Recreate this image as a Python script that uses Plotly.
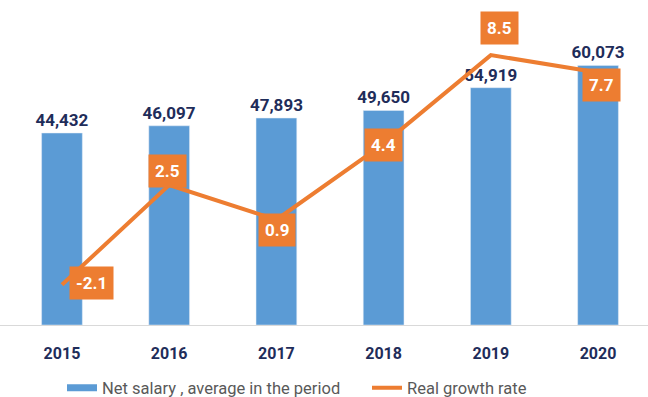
import plotly.graph_objects as go

years = ["2015", "2016", "2017", "2018", "2019", "2020"]
net_salary = [44432, 46097, 47893, 49650, 54919, 60073]
real_growth = [-2.1, 2.5, 0.9, 4.4, 8.5, 7.7]

# offsets (px) of each growth-rate label box relative to its point
label_xshift = [30, -2, 1, 0, 9, 3]
label_yshift = [2, 14, -10, -1, 27, -13]

BLUE = "#5b9bd5"
ORANGE = "#ed7d31"
NAVY = "#1f2d5a"
GREY = "#595959"
FONT = "Roboto"
SALARY_NAME = "Net salary , average in the period"
GROWTH_NAME = "Real growth rate"

fig = go.Figure()

fig.add_trace(go.Bar(
    x=years, y=net_salary, name=SALARY_NAME, showlegend=False,
    marker_color=BLUE, width=0.38,
    text=[f"{v:,}" for v in net_salary], textposition="outside",
    constraintext="none",
    textfont=dict(family=FONT, size=17, color=NAVY, weight="bold"),
    cliponaxis=False,
))

# legend entry for the bars, drawn as a wide flat swatch
fig.add_trace(go.Scatter(
    x=[None], y=[None], name=SALARY_NAME, mode="lines",
    line=dict(color=BLUE, width=7), legend="legend",
))

fig.add_trace(go.Scatter(
    x=years, y=real_growth, name=GROWTH_NAME, yaxis="y2",
    mode="lines", line=dict(color=ORANGE, width=4), legend="legend2",
))

for i, (v, dx, dy) in enumerate(zip(real_growth, label_xshift, label_yshift)):
    fig.add_annotation(
        x=i, y=v, xref="x", yref="y2", text=f"{v:.1f}",
        showarrow=False, xshift=dx, yshift=dy,
        bgcolor=ORANGE, borderpad=6,
        font=dict(family=FONT, size=17, color="white", weight="bold"),
    )

hidden = dict(showline=False, showgrid=False, zeroline=False,
              showticklabels=False, ticks="")
legend_common = dict(orientation="h", y=-0.207, yanchor="middle",
                     xanchor="left", itemwidth=30,
                     font=dict(family=FONT, size=16.5, color=GREY),
                     bgcolor="rgba(0,0,0,0)")

fig.update_layout(
    width=648, height=397,
    margin=dict(l=0, r=0, t=20, b=72, autoexpand=False),
    plot_bgcolor="white", paper_bgcolor="white",
    font=dict(family=FONT, color=GREY),
    showlegend=True,
    legend=dict(x=62 / 648, **legend_common),
    legend2=dict(x=367 / 648, **legend_common),
    xaxis=dict(type="category", range=[-0.578, 5.466], showline=True,
               linecolor="#d9d9d9", linewidth=1,
               showgrid=False, zeroline=False, ticks="", ticklabelstandoff=14,
               tickfont=dict(family=FONT, size=16, color=NAVY, weight="bold")),
    yaxis=dict(range=[0, 70585], **hidden),
    yaxis2=dict(range=[-3.96, 10.12], overlaying="y", side="right", **hidden),
)

fig.write_html("out.html")
